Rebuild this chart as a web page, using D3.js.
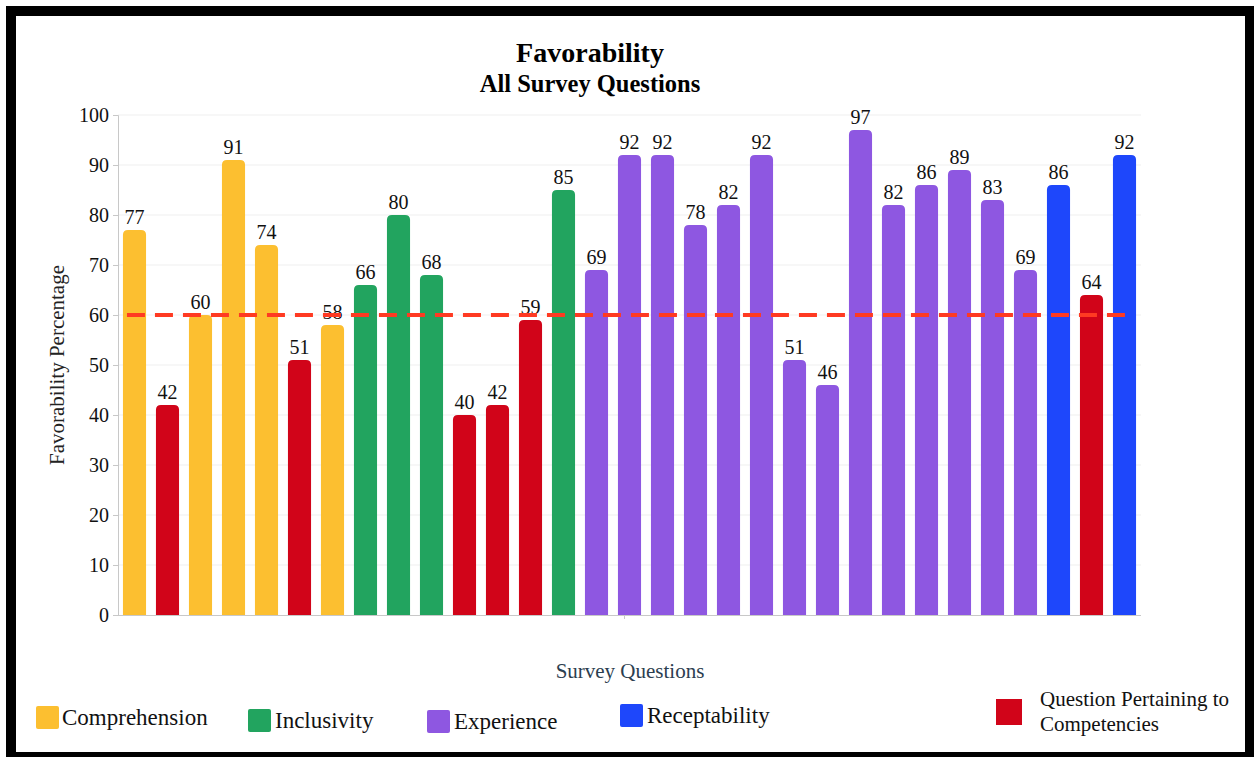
<!DOCTYPE html>
<html>
<head>
<meta charset="utf-8">
<script src="https://cdn.jsdelivr.net/npm/d3@7"></script>
<style>
  html, body { margin: 0; padding: 0; background: #fff; }
  svg { display: block; font-family: "Liberation Serif", "Times New Roman", serif; }
</style>
</head>
<body>
<svg id="chart" width="1254" height="757"></svg>
<script>
// Survey questions, in order, with their favorability and group
const questions = ["Q1","Q2","Q3","Q4","Q5","Q6","Q7","Q8","Q9","Q10","Q11","Q12","Q13","Q14","Q15","Q16",
  "Q17","Q18","Q19","Q20","Q21","Q22","Q23","Q24","Q25","Q26","Q27","Q28","Q29","Q30","Q31"];
const favorability = [77, 42, 60, 91, 74, 51, 58, 66, 80, 68, 40, 42, 59, 85, 69, 92,
  92, 78, 82, 92, 51, 46, 97, 82, 86, 89, 83, 69, 86, 64, 92];
const groups = ["Comprehension","Competencies","Comprehension","Comprehension","Comprehension","Competencies",
  "Comprehension","Inclusivity","Inclusivity","Inclusivity","Competencies","Competencies","Competencies",
  "Inclusivity","Experience","Experience","Experience","Experience","Experience","Experience","Experience",
  "Experience","Experience","Experience","Experience","Experience","Experience","Experience",
  "Receptability","Competencies","Receptability"];
const yTicks = [0, 10, 20, 30, 40, 50, 60, 70, 80, 90, 100];
const threshold = 60;

const groupColors = {
  Comprehension: "#FCBF30",
  Inclusivity: "#22A45F",
  Experience: "#8E57E1",
  Receptability: "#1E47FB",
  Competencies: "#D10419"
};

const svg = d3.select("#chart");

// black frame around the page
svg.append("rect").attr("x", 6).attr("y", 6).attr("width", 1248).attr("height", 751).attr("fill", "#000");
svg.append("rect").attr("x", 16).attr("y", 16).attr("width", 1229).attr("height", 736).attr("fill", "#fff");

const plot = { left: 118, right: 1141, top: 115, bottom: 615 };

const x = d3.scaleBand().domain(questions).range([plot.left, plot.right]).paddingInner(0.3).paddingOuter(0.15);
const y = d3.scaleLinear().domain([0, 100]).range([plot.bottom, plot.top]);

// gridlines
svg.append("g").selectAll("line").data(yTicks.filter(d => d > 0)).join("line")
  .attr("x1", plot.left).attr("x2", plot.right)
  .attr("y1", d => y(d)).attr("y2", d => y(d))
  .attr("stroke", "#efefef").attr("stroke-width", 1);

// y axis
const yAxis = svg.append("g").attr("transform", `translate(${plot.left},0)`)
  .call(d3.axisLeft(y).tickValues(yTicks).tickSize(5).tickPadding(4));
yAxis.select(".domain").attr("stroke", "#c8c8c8");
yAxis.selectAll(".tick line").attr("stroke", "#c8c8c8");
yAxis.selectAll(".tick text").attr("fill", "#111").attr("font-size", 20)
  .attr("font-family", "Liberation Serif, serif");

// x axis baseline with a single centre tick
svg.append("line").attr("x1", plot.left).attr("x2", plot.right)
  .attr("y1", plot.bottom + 0.5).attr("y2", plot.bottom + 0.5).attr("stroke", "#c8c8c8");
svg.append("line").attr("x1", x("Q16") + x.bandwidth() / 2 - 5).attr("x2", x("Q16") + x.bandwidth() / 2 - 5)
  .attr("y1", plot.bottom).attr("y2", plot.bottom + 4).attr("stroke", "#c8c8c8");

// bars with rounded tops
const r = 5;
const bw = x.bandwidth();
function barPath(i) {
  const x0 = x(questions[i]), x1 = x0 + bw;
  const yt = y(favorability[i]), yb = y(0);
  return `M${x0},${yb}V${yt + r}Q${x0},${yt} ${x0 + r},${yt}H${x1 - r}Q${x1},${yt} ${x1},${yt + r}V${yb}Z`;
}
svg.append("g").selectAll("path").data(questions).join("path")
  .attr("d", (d, i) => barPath(i))
  .attr("fill", (d, i) => groupColors[groups[i]]);

// value labels
svg.append("g").selectAll("text").data(questions).join("text")
  .attr("x", d => x(d) + bw / 2)
  .attr("y", (d, i) => y(favorability[i]) - 6)
  .attr("text-anchor", "middle")
  .attr("font-size", 20).attr("fill", "#111")
  .text((d, i) => favorability[i]);

// 60% threshold line
svg.append("line")
  .attr("x1", x(questions[0]) + 4)
  .attr("x2", x(questions[questions.length - 1]) + bw / 2 + 3)
  .attr("y1", y(threshold)).attr("y2", y(threshold))
  .attr("stroke", "#FF3A22").attr("stroke-width", 4)
  .attr("stroke-dasharray", "18,10");

// titles
svg.append("text").attr("x", 590).attr("y", 62).attr("text-anchor", "middle")
  .attr("font-size", 28).attr("font-weight", "bold").attr("fill", "#000").text("Favorability");
svg.append("text").attr("x", 590).attr("y", 92).attr("text-anchor", "middle")
  .attr("font-size", 24.5).attr("font-weight", "bold").attr("fill", "#000").text("All Survey Questions");

// axis titles
svg.append("text").attr("transform", "translate(64,365) rotate(-90)").attr("text-anchor", "middle")
  .attr("font-size", 21).attr("fill", "#222").text("Favorability Percentage");
svg.append("text").attr("x", 630).attr("y", 678).attr("text-anchor", "middle")
  .attr("font-size", 21).attr("fill", "#2c3e50").text("Survey Questions");

// legend
const legend = [
  { key: "Comprehension", label: ["Comprehension"], sx: 36, sy: 706, s: 23, tx: 62, ty: 725, fs: 23 },
  { key: "Inclusivity", label: ["Inclusivity"], sx: 248, sy: 709, s: 23, tx: 275, ty: 728, fs: 23 },
  { key: "Experience", label: ["Experience"], sx: 427, sy: 710, s: 23, tx: 454, ty: 729, fs: 23 },
  { key: "Receptability", label: ["Receptability"], sx: 620, sy: 704, s: 23, tx: 647, ty: 723, fs: 23 },
  { key: "Competencies", label: ["Question Pertaining to", "Competencies"], sx: 996, sy: 699, s: 26, tx: 1040, ty: 706, fs: 21 }
];
const lg = svg.append("g").selectAll("g").data(legend).join("g");
lg.append("rect").attr("x", d => d.sx).attr("y", d => d.sy).attr("width", d => d.s).attr("height", d => d.s)
  .attr("rx", d => d.key === "Competencies" ? 0 : 2)
  .attr("fill", d => groupColors[d.key]);
lg.append("text").attr("x", d => d.tx).attr("y", d => d.ty).attr("font-size", d => d.fs).attr("fill", "#111")
  .selectAll("tspan").data(d => d.label.map((t, i) => ({ t, i, x: d.tx }))).join("tspan")
  .attr("x", d => d.x).attr("dy", d => d.i === 0 ? 0 : 25).text(d => d.t);
</script>
</body>
</html>
